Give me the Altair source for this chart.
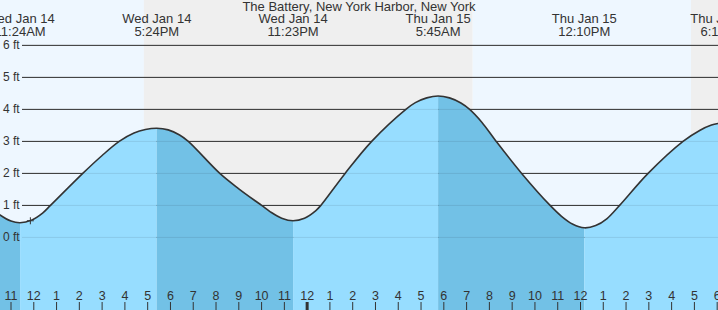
import altair as alt
import pandas as pd

BASE = pd.Timestamp("2026-01-14 00:00")

TITLE = "The Battery, New York Harbor, New York"

# Tide curve (time, feet)
curve_times = [
    "2026-01-14 10:00", "2026-01-14 10:31", "2026-01-14 11:00", "2026-01-14 11:24",
    "2026-01-14 11:54", "2026-01-14 12:24", "2026-01-14 12:44", "2026-01-14 14:09",
    "2026-01-14 15:00", "2026-01-14 15:45", "2026-01-14 16:24", "2026-01-14 16:54",
    "2026-01-14 17:24", "2026-01-14 17:54", "2026-01-14 18:24", "2026-01-14 18:47",
    "2026-01-14 20:10", "2026-01-14 21:00", "2026-01-14 22:00", "2026-01-14 22:23",
    "2026-01-14 22:53", "2026-01-14 23:23",
    "2026-01-14 23:53", "2026-01-15 00:23", "2026-01-15 00:36", "2026-01-15 01:40",
    "2026-01-15 02:50", "2026-01-15 04:20", "2026-01-15 04:45", "2026-01-15 05:15",
    "2026-01-15 05:45", "2026-01-15 06:15", "2026-01-15 06:45", "2026-01-15 07:08",
    "2026-01-15 07:40", "2026-01-15 08:18", "2026-01-15 09:25", "2026-01-15 10:40",
    "2026-01-15 11:10", "2026-01-15 11:40", "2026-01-15 12:10", "2026-01-15 12:40",
    "2026-01-15 13:10", "2026-01-15 13:43", "2026-01-15 14:58", "2026-01-15 16:30",
    "2026-01-15 17:15", "2026-01-15 17:45", "2026-01-15 18:02", "2026-01-15 18:15",
]
curve_ft = [
    1.00, 0.70, 0.51, 0.46,
    0.54, 0.77, 1.00, 2.00,
    2.56, 3.00, 3.26, 3.37,
    3.41, 3.36, 3.20, 3.00,
    2.00, 1.52, 1.00, 0.80,
    0.60, 0.52,
    0.60, 0.84, 1.00, 2.00,
    3.00, 4.00, 4.21, 4.36,
    4.42, 4.36, 4.20, 4.00,
    3.60, 3.00, 2.00, 1.00,
    0.66, 0.41, 0.30, 0.37,
    0.59, 1.00, 2.00, 3.00,
    3.35, 3.51, 3.56, 3.58,
]

# High / low events
hilo_times = ["2026-01-14 11:24", "2026-01-14 17:24", "2026-01-14 23:23",
              "2026-01-15 05:45", "2026-01-15 12:10", "2026-01-15 18:15"]
hilo_day = ["Wed Jan 14", "Wed Jan 14", "Wed Jan 14",
            "Thu Jan 15", "Thu Jan 15", "Thu Jan 15"]
hilo_clock = ["11:24AM", "5:24PM", "11:23PM", "5:45AM", "12:10PM", "6:15PM"]

# Day / night bands
band_start = ["2026-01-14 08:00", "2026-01-14 16:50", "2026-01-15 07:16", "2026-01-15 16:51"]
band_end = ["2026-01-14 16:50", "2026-01-15 07:16", "2026-01-15 16:51", "2026-01-15 20:00"]
band_kind = ["day", "night", "day", "night"]

# Current-time marker
marker_time = ["2026-01-14 11:51"]
marker_ft = [0.52]

# Y grid
grid_ft = [0, 1, 2, 3, 4, 5, 6]
grid_labels = ["0 ft", "1 ft", "2 ft", "3 ft", "4 ft", "5 ft", "6 ft"]

# Hour ticks (hours since Wed Jan 14 00:00)
tick_hours = list(range(11, 43))
tick_labels = ["11", "12", "1", "2", "3", "4", "5", "6", "7", "8", "9", "10", "11",
               "12", "1", "2", "3", "4", "5", "6", "7", "8", "9", "10", "11",
               "12", "1", "2", "3", "4", "5", "6"]


def hrs(s):
    return (pd.Timestamp(s) - BASE) / pd.Timedelta(hours=1)


curve_h = [hrs(t) for t in curve_times]
ext_h = [hrs(t) for t in hilo_times]

# split the curve into rising / falling segments at the extremes
pts = sorted(zip(curve_h, curve_ft))
bounds = [-1e9] + ext_h + [1e9]
seg_rows = []
for i in range(len(bounds) - 1):
    lo, hi = bounds[i], bounds[i + 1]
    seg = [(h, f) for h, f in pts if lo <= h <= hi]
    if len(seg) < 2:
        continue
    tide = "rising" if seg[-1][1] > seg[0][1] else "falling"
    seg_rows += [dict(h=h, ft=f, seg=i, tide=tide) for h, f in seg]

seg_df = pd.DataFrame(seg_rows)
curve_df = pd.DataFrame({"h": curve_h, "ft": curve_ft})
hilo_df = pd.DataFrame({"h": ext_h,
                        "label": [d + "\n" + c for d, c in zip(hilo_day, hilo_clock)]})
band_df = pd.DataFrame({"h": [hrs(t) for t in band_start],
                        "h2": [hrs(t) for t in band_end],
                        "kind": band_kind})
grid_df = pd.DataFrame({"ft": grid_ft, "label": grid_labels})
tick_df = pd.DataFrame({"h": tick_hours, "label": tick_labels})
marker_df = pd.DataFrame({"h": [hrs(t) for t in marker_time], "ft": marker_ft})
title_df = pd.DataFrame({"t": [TITLE]})

W, H = 718, 310
xs = alt.Scale(domain=[10.517, 42.036], nice=False, zero=False)
ys = alt.Scale(domain=[-2.2675, 7.4175], nice=False, zero=False)
X = alt.X("h:Q", scale=xs, axis=None)
Y = alt.Y("ft:Q", scale=ys, axis=None, stack=None)
FONT = "Liberation Sans"
TXT = "#333333"
INTERP = "catmull-rom"

bands = alt.Chart(band_df).mark_rect(clip=True).encode(
    x=X, x2="h2:Q", y=alt.value(0), y2=alt.value(H),
    color=alt.Color("kind:N", legend=None,
                    scale=alt.Scale(domain=["day", "night"], range=["#eef7ff", "#efefef"])),
)

grid = alt.Chart(grid_df).mark_rule(color="#333333", strokeWidth=1).encode(
    y=Y, x=alt.value(22), x2=alt.value(W),
)

water = alt.Chart(seg_df).mark_area(interpolate=INTERP, clip=True).encode(
    x=X, y=Y, y2=alt.value(H), detail="seg:N",
    color=alt.Color("tide:N", legend=None,
                    scale=alt.Scale(domain=["rising", "falling"], range=["#97ddff", "#72c1e6"])),
)

grid_faint = alt.Chart(grid_df).mark_rule(color="#000000", strokeWidth=1, opacity=0.09).encode(
    y=Y, x=alt.value(22), x2=alt.value(W),
)

line = alt.Chart(curve_df).mark_line(interpolate=INTERP, color="#333333",
                                     strokeWidth=1.6, clip=True).encode(x=X, y=Y)

marker = alt.Chart(marker_df).mark_point(shape="M-1,0L1,0M0,-1L0,1", size=49, filled=False,
                                         stroke="#333333", strokeWidth=1, opacity=1).encode(x=X, y=Y)

ylabels = alt.Chart(grid_df).mark_text(align="left", baseline="middle", font=FONT,
                                       fontSize=12, color=TXT).encode(
    y=Y, x=alt.value(3), text="label:N",
)

ticks = alt.Chart(tick_df).mark_rule(color="#333333").encode(
    x=X, y=alt.value(302), y2=alt.value(H),
    strokeWidth=alt.condition("datum.h % 24 == 0", alt.value(3), alt.value(1)),
)

tick_text = alt.Chart(tick_df).mark_text(align="center", baseline="alphabetic", font=FONT,
                                         fontSize=12.5, color=TXT).encode(
    x=X, y=alt.value(300), text="label:N",
)

hilo = alt.Chart(hilo_df).mark_text(align="center", baseline="alphabetic", font=FONT,
                                    fontSize=13, color=TXT, lineBreak="\n",
                                    lineHeight=12.7).encode(
    x=X, y=alt.value(23.3), text="label:N",
)

title = alt.Chart(title_df).mark_text(align="center", baseline="alphabetic", font=FONT,
                                      fontSize=13, color=TXT).encode(
    x=alt.value(359), y=alt.value(11), text="t:N",
)

chart = alt.layer(
    bands, grid, water, grid_faint, line, marker, ylabels, ticks, tick_text, hilo, title
).resolve_scale(color="independent").properties(
    width=W, height=H, padding=0, autosize="none",
).configure_view(stroke=None)

chart.save("out.html", embed_options={"renderer": "svg", "actions": False})
